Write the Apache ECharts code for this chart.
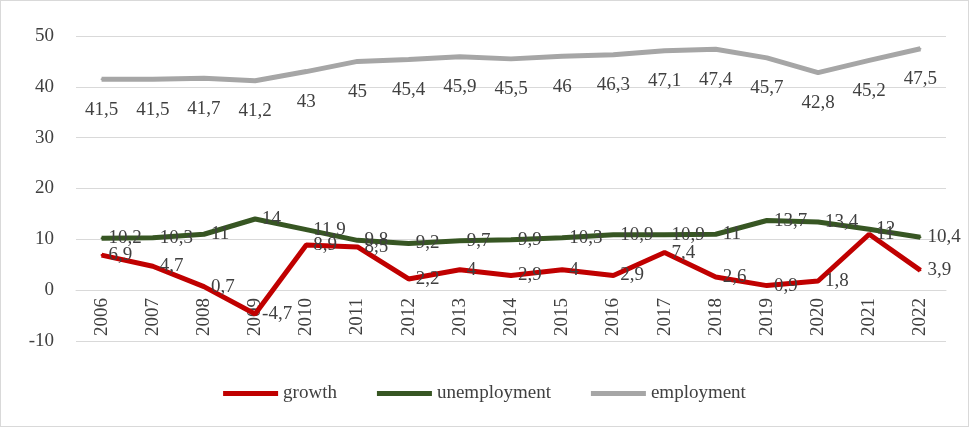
<!DOCTYPE html>
<html>
<head>
<meta charset="utf-8">
<script src="https://cdn.jsdelivr.net/npm/echarts@6/dist/echarts.min.js"></script>
<style>
  html, body { margin: 0; padding: 0; background: #fff; }
  #chart { width: 967px; height: 425px; border: 1px solid #d9d9d9; }
</style>
</head>
<body>
<div id="chart"></div>
<script>
var years = ['2006','2007','2008','2009','2010','2011','2012','2013','2014','2015','2016','2017','2018','2019','2020','2021','2022'];
var growth = [6.9, 4.7, 0.7, -4.7, 8.9, 8.5, 2.2, 4, 2.9, 4, 2.9, 7.4, 2.6, 0.9, 1.8, 11, 3.9];
var unemployment = [10.2, 10.3, 11, 14, 11.9, 9.8, 9.2, 9.7, 9.9, 10.3, 10.9, 10.9, 11, 13.7, 13.4, 12, 10.4];
var employment = [41.5, 41.5, 41.7, 41.2, 43, 45, 45.4, 45.9, 45.5, 46, 46.3, 47.1, 47.4, 45.7, 42.8, 45.2, 47.5];

var font = 'Liberation Serif';
function line(name, data, color, pos, dist, off) {
    return {
        name: name, type: 'line', data: data,
        symbol: 'circle', symbolSize: 2, showSymbol: true,
        lineStyle: { color: color, width: 5 }, itemStyle: { color: color },
        label: {
            show: true, position: pos, distance: dist, offset: off,
            color: '#404040', fontFamily: font, fontSize: 19,
            formatter: function(p) { return String(p.value).replace('.', ','); }
        },
        labelLayout: { hideOverlap: false }
    };
}

var chart = echarts.init(document.getElementById('chart'));
chart.setOption({
    animation: false,
    grid: { left: 75, right: 22, top: 35, bottom: 85 },
    legend: {
        bottom: 18, itemWidth: 55, itemHeight: 5, itemGap: 40,
        textStyle: { fontFamily: font, fontSize: 19, color: '#404040' },
        icon: 'rect'
    },
    xAxis: {
        type: 'category', data: years, offset: -51,
        axisLine: { lineStyle: { color: '#d9d9d9' } },
        axisTick: { show: false },
        axisLabel: { rotate: 90, fontFamily: font, fontSize: 19, color: '#404040', margin: 8 }
    },
    yAxis: {
        type: 'value', min: -10, max: 50, interval: 10,
        axisLabel: { fontFamily: font, fontSize: 19, color: '#404040', margin: 22 },
        splitLine: { lineStyle: { color: '#d9d9d9' } }
    },
    series: [
        line('growth', growth, '#c00000', 'right', 6, [0, 5]),
        line('unemployment', unemployment, '#375623', 'right', 6, [0, 6]),
        line('employment', employment, '#a6a6a6', 'bottom', 20, [0, 0])
    ]
});
</script>
</body>
</html>
